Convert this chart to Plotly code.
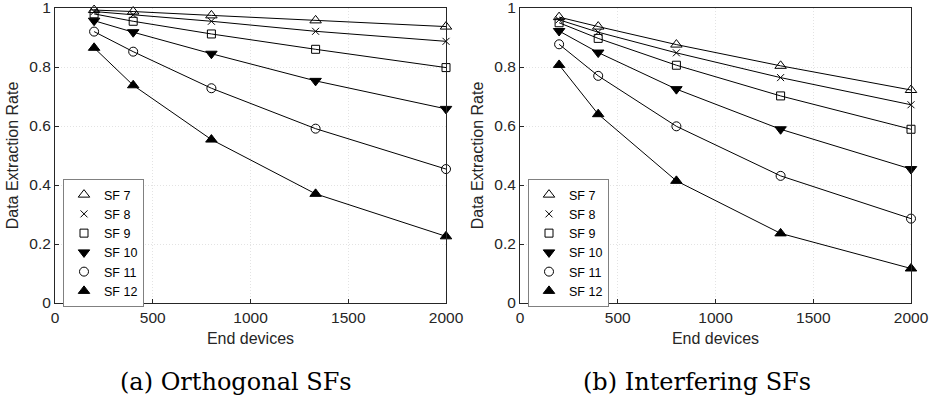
import plotly.graph_objects as go

end_devices = [200, 400, 800, 1333, 2000]
sf_labels = ["SF 7", "SF 8", "SF 9", "SF 10", "SF 11", "SF 12"]

orthogonal = {
    "SF 7":  [0.993, 0.988, 0.975, 0.958, 0.937],
    "SF 8":  [0.988, 0.977, 0.955, 0.921, 0.887],
    "SF 9":  [0.980, 0.955, 0.912, 0.860, 0.798],
    "SF 10": [0.957, 0.918, 0.845, 0.753, 0.658],
    "SF 11": [0.920, 0.852, 0.728, 0.591, 0.454],
    "SF 12": [0.865, 0.738, 0.554, 0.370, 0.226],
}
interfering = {
    "SF 7":  [0.969, 0.937, 0.876, 0.804, 0.722],
    "SF 8":  [0.960, 0.918, 0.848, 0.764, 0.672],
    "SF 9":  [0.950, 0.897, 0.806, 0.702, 0.589],
    "SF 10": [0.922, 0.849, 0.725, 0.589, 0.454],
    "SF 11": [0.877, 0.770, 0.599, 0.431, 0.286],
    "SF 12": [0.807, 0.640, 0.414, 0.236, 0.117],
}

symbols = {
    "SF 7": "triangle-up-open",
    "SF 8": "x-thin-open",
    "SF 9": "square-open",
    "SF 10": "triangle-down",
    "SF 11": "circle-open",
    "SF 12": "triangle-up",
}
sizes = {"SF 7": 10, "SF 8": 7, "SF 9": 8, "SF 10": 10, "SF 11": 9, "SF 12": 10}

W, H = 930, 401
def px_x(p):
    return p / W
def px_y(p):
    return (H - p) / H

fig = go.Figure()

panels = [
    (orthogonal, "x", "y", "legend"),
    (interfering, "x2", "y2", "legend2"),
]
for data, xa, ya, lg in panels:
    for sf in sf_labels:
        fig.add_trace(go.Scatter(
            x=end_devices, y=data[sf], mode="lines",
            line=dict(color="black", width=1),
            xaxis=xa, yaxis=ya, showlegend=False, hoverinfo="skip",
        ))
    for sf in sf_labels:
        fig.add_trace(go.Scatter(
            x=end_devices, y=data[sf], mode="markers", name=sf,
            marker=dict(symbol=symbols[sf], size=sizes[sf], color="black",
                        line=dict(color="black", width=1)),
            xaxis=xa, yaxis=ya, legend=lg, cliponaxis=False,
        ))

font_sans = "Liberation Sans, Arial, sans-serif"
axis_common = dict(
    showline=True, linecolor="#262626", linewidth=1, mirror=True,
    ticks="inside", ticklen=4, tickcolor="#262626", automargin=False,
    ticklabeloverflow="allow",
    showgrid=True, gridcolor="#e3e3e3", griddash="1px,2px", gridwidth=1,
    zeroline=False, tickfont=dict(family=font_sans, size=15.5, color="#262626"),
)
xdom1 = [px_x(55), px_x(446)]
xdom2 = [px_x(520), px_x(911)]
ydom = [px_y(303), px_y(8)]
yticks = [0, 0.2, 0.4, 0.6, 0.8, 1]
ytick_text = ["0", "0.2", "0.4", "0.6", "0.8", "1"]
xticks = [0, 500, 1000, 1500, 2000]
yrange = [0, 1]
xrange = [0, 2000]

fig.update_layout(
    width=W, height=H,
    margin=dict(l=0, r=0, t=0, b=0, autoexpand=False),
    paper_bgcolor="white", plot_bgcolor="white",
    font=dict(family=font_sans, size=16, color="#262626"),
    xaxis=dict(axis_common, domain=xdom1, range=xrange, tickvals=xticks, anchor="y",
               title=dict(text="End devices", standoff=8, font=dict(size=16))),
    yaxis=dict(axis_common, domain=ydom, range=yrange, tickvals=yticks,
               ticktext=ytick_text, anchor="x",
               title=dict(text="Data Extraction Rate", standoff=6, font=dict(size=16))),
    xaxis2=dict(axis_common, domain=xdom2, range=xrange, tickvals=xticks, anchor="y2",
                title=dict(text="End devices", standoff=8, font=dict(size=16))),
    yaxis2=dict(axis_common, domain=ydom, range=yrange, tickvals=yticks,
                ticktext=ytick_text, anchor="x2",
                title=dict(text="Data Extraction Rate", standoff=6, font=dict(size=16))),
    legend=dict(x=px_x(63), y=px_y(179), xanchor="left", yanchor="top",
                bordercolor="#808080", borderwidth=1, bgcolor="white",
                font=dict(family=font_sans, size=12.5, color="black"),
                tracegroupgap=0, itemwidth=30),
    legend2=dict(x=px_x(528), y=px_y(179), xanchor="left", yanchor="top",
                 bordercolor="#808080", borderwidth=1, bgcolor="white",
                 font=dict(family=font_sans, size=12.5, color="black"),
                 tracegroupgap=0, itemwidth=30),
    showlegend=True,
)

caption_font = dict(family="DejaVu Serif, serif", size=24, color="black")
fig.add_annotation(text="(a) Orthogonal SFs", x=px_x(236), y=px_y(382), xref="paper", yref="paper",
                   showarrow=False, font=caption_font, xanchor="center", yanchor="middle")
fig.add_annotation(text="(b) Interfering SFs", x=px_x(697), y=px_y(382), xref="paper", yref="paper",
                   showarrow=False, font=caption_font, xanchor="center", yanchor="middle")

fig.write_html("out.html")
